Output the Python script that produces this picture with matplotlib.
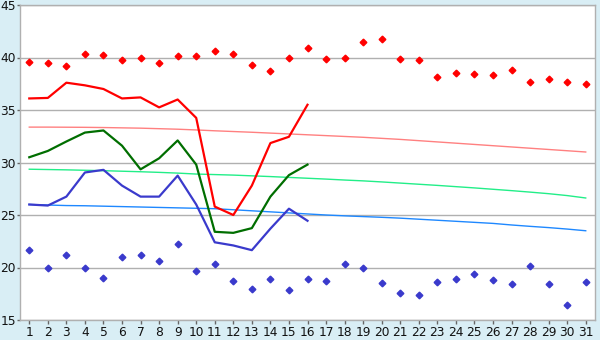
"""Daily temperature chart: max/min points, partial running lines, normal curves."""

import matplotlib
matplotlib.use("Agg")
import matplotlib.pyplot as plt


OUT_PNG = "out.png"

DAYS = list(range(1, 32))

MAX_POINTS = [39.55, 39.5, 39.2, 40.3, 40.2, 39.75, 40.0, 39.5, 40.1, 40.1,
              40.6, 40.3, 39.3, 38.7, 40.0, 40.9, 39.85, 39.95, 41.5, 41.8,
              39.85, 39.75, 38.1, 38.5, 38.4, 38.3, 38.8, 37.65, 37.95, 37.65,
              37.45]
MIN_POINTS = [21.65, 20.0, 21.15, 20.0, 19.0, 21.0, 21.15, 20.6, 22.2, 19.65,
              20.3, 18.7, 18.0, 18.9, 17.85, 18.9, 18.7, 20.3, 20.0, 18.5,
              17.55, 17.35, 18.6, 18.9, 19.35, 18.8, 18.4, 20.1, 18.4, 16.4,
              18.6]

RUN_DAYS = list(range(1, 17))
HIGH_LINE = [36.1, 36.15, 37.6, 37.35, 37.0, 36.1, 36.2, 35.25, 36.0, 34.25,
             25.8, 25.0, 27.8, 31.85, 32.45, 35.5]
MEAN_LINE = [30.5, 31.1, 32.0, 32.85, 33.05, 31.6, 29.35, 30.4, 32.1, 29.8,
             23.4, 23.3, 23.75, 26.75, 28.8, 29.8]
LOW_LINE = [26.0, 25.9, 26.75, 29.05, 29.3, 27.8, 26.75, 26.75, 28.75, 26.0,
            22.4, 22.1, 21.65, 23.7, 25.6, 24.45]

NORMAL_HIGH = [33.37, 33.37, 33.36, 33.35, 33.33, 33.3, 33.27, 33.22, 33.17, 33.1,
               33.02, 32.95, 32.88, 32.8, 32.72, 32.64, 32.56, 32.48, 32.4, 32.3,
               32.2, 32.08, 31.96, 31.84, 31.72, 31.6, 31.48, 31.36, 31.24, 31.12,
               31.0]
NORMAL_MEAN = [29.36, 29.33, 29.3, 29.26, 29.22, 29.17, 29.12, 29.06, 28.99, 28.9,
               28.85, 28.8, 28.73, 28.66, 28.58, 28.5, 28.42, 28.33, 28.25, 28.15,
               28.04, 27.93, 27.82, 27.7, 27.58, 27.45, 27.32, 27.18, 27.03, 26.85,
               26.62]
NORMAL_LOW = [26.0, 25.95, 25.9, 25.88, 25.84, 25.8, 25.76, 25.72, 25.68, 25.64,
              25.6, 25.5, 25.4, 25.3, 25.2, 25.1, 25.0, 24.92, 24.85, 24.78,
              24.7, 24.6, 24.5, 24.4, 24.3, 24.2, 24.05, 23.92, 23.8, 23.66,
              23.5]

Y_TICKS = [15, 20, 25, 30, 35, 40, 45]

BG = "#d9eef5"
GRID = "#b0b0b0"


def main():
    plt.rcParams["font.family"] = ["DejaVu Sans"]
    fig = plt.figure(figsize=(6.0, 3.4), dpi=100, facecolor=BG)
    ax = fig.add_axes([20 / 600, 20 / 340, 575 / 600, 315 / 340])
    ax.set_facecolor("white")

    ax.plot(DAYS, NORMAL_HIGH, color="#ff8080", linewidth=1.0, zorder=2)
    ax.plot(DAYS, NORMAL_MEAN, color="#22ee88", linewidth=1.0, zorder=2)
    ax.plot(DAYS, NORMAL_LOW, color="#1e88ff", linewidth=1.0, zorder=2)

    ax.plot(RUN_DAYS, HIGH_LINE, color="#ff0000", linewidth=1.6, zorder=3)
    ax.plot(RUN_DAYS, MEAN_LINE, color="#006e00", linewidth=1.6, zorder=3)
    ax.plot(RUN_DAYS, LOW_LINE, color="#3a3acc", linewidth=1.6, zorder=3)

    ax.plot(DAYS, MAX_POINTS, linestyle="none", marker="D", markersize=3.4,
            color="#ff0000", zorder=4)
    ax.plot(DAYS, MIN_POINTS, linestyle="none", marker="D", markersize=3.4,
            color="#3a3acc", zorder=4)

    ax.set_xlim(0.5, 31.5)
    ax.set_ylim(15, 45)
    ax.set_xticks(DAYS)
    ax.set_yticks(Y_TICKS)
    ax.grid(axis="y", color=GRID, linewidth=1.0, zorder=1)
    for side in ("left", "right", "top", "bottom"):
        ax.spines[side].set_color(GRID)
        ax.spines[side].set_linewidth(1.0)
    ax.tick_params(axis="x", length=3, width=1.0, color="#666666",
                   labelsize=8.8, pad=1.2, labelcolor="#111111")
    ax.tick_params(axis="y", length=2, width=1.0, color="#666666",
                   labelsize=8.8, pad=1, labelcolor="#111111")

    fig.savefig(OUT_PNG, dpi=100, facecolor=BG)
    plt.close(fig)


if __name__ == "__main__":
    main()
